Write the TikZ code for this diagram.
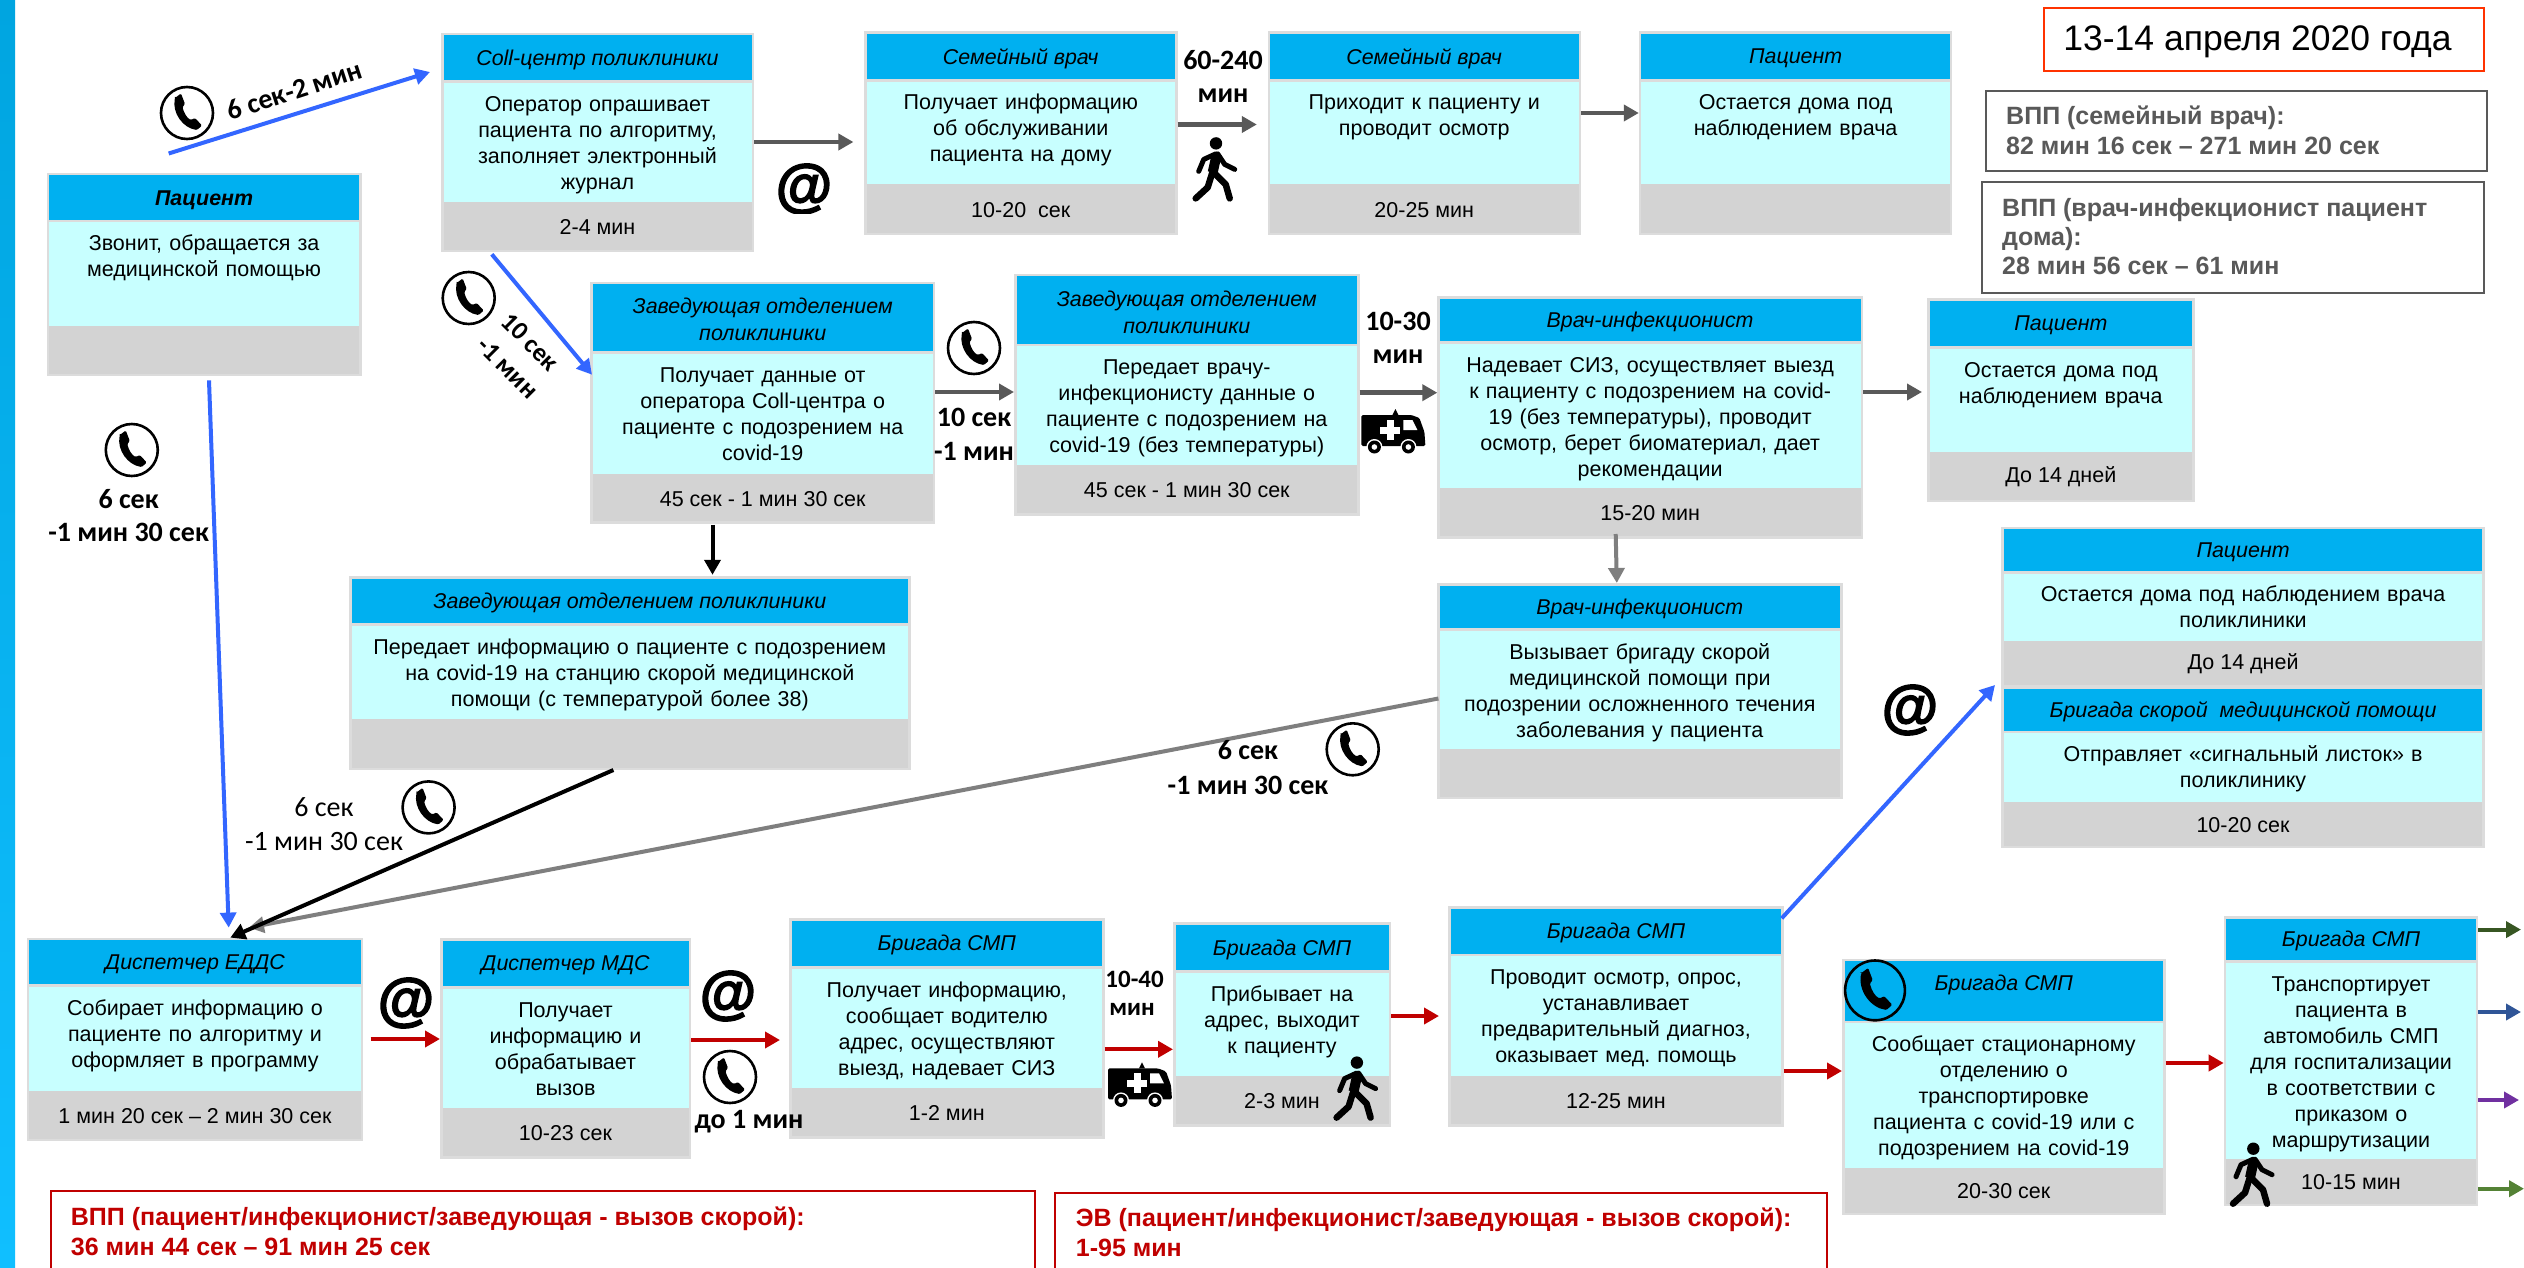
\documentclass[tikz,border=0pt]{standalone}
\usepackage{fontspec}
\setmainfont{Liberation Sans}
\newfontfamily\calibri{Carlito}
\newfontfamily\atfont[BoldFeatures={FakeBold=2.5}]{Liberation Sans}
\usetikzlibrary{arrows.meta}
\definecolor{hdr}{HTML}{00B0F0}
\definecolor{bdy}{HTML}{C8FFFF}
\definecolor{ftr}{HTML}{D3D3D3}
\definecolor{edge}{HTML}{DCDCDC}
\definecolor{bluearr}{HTML}{3366FF}
\definecolor{darkarr}{HTML}{595959}
\definecolor{midarr}{HTML}{7F7F7F}
\definecolor{redarr}{HTML}{C00000}
\definecolor{bartop}{HTML}{00A5E0}
\definecolor{barbot}{HTML}{10BFFF}
\definecolor{dateedge}{HTML}{FF3300}
\definecolor{exa}{HTML}{375623}
\definecolor{exb}{HTML}{2F5597}
\definecolor{exc}{HTML}{7030A0}
\definecolor{exd}{HTML}{548235}
\frenchspacing
\tikzset{
  rectbase/.style={rectangle,inner sep=0pt,outer sep=0pt},
  cardout/.style={rectbase,fill=edge},
  cardhdr/.style={rectbase,fill=hdr},
  cardbdy/.style={rectbase,fill=bdy},
  cardftr/.style={rectbase,fill=ftr},
  hdrtext/.style={inner sep=0pt,align=center,font=\fontsize{21.4}{27}\selectfont\itshape},
  bdytext/.style={inner sep=0pt,align=center,anchor=north,font=\fontsize{21.5}{26}\selectfont},
  ftrtext/.style={inner sep=0pt,font=\fontsize{21.5}{26}\selectfont},
  lblb/.style={inner sep=0pt,font=\fontsize{28}{34}\selectfont\calibri\bfseries},
  lblr/.style={inner sep=0pt,font=\fontsize{28}{34}\selectfont\calibri},
  atsign/.style={inner sep=0pt,anchor=base,font=\fontsize{58}{60}\selectfont\atfont\bfseries},
  sumtext/.style={inner sep=0pt,align=left,anchor=north west,font=\fontsize{25}{30}\selectfont\bfseries},
  conn/.style={-{Triangle[length=15pt,width=16pt]},line width=4pt},
  bluec/.style={conn,draw=bluearr},
  darkc/.style={conn,draw=darkarr,line width=4.5pt},
  midc/.style={conn,draw=midarr},
  blackc/.style={conn,draw=black},
  redc/.style={conn,draw=redarr},
  phoneicon/.pic={
    \draw[black,line width=2.6pt] (0,0) circle (26);
    \fill[black,rounded corners=1.2pt] (-12,-15) -- (-6,-19.5) -- (-2,-9) -- (-4.5,-6)
      .. controls (-3,0) and (0,5) .. (4,7) -- (8,5) -- (15,12.5) -- (10,17)
      .. controls (-4,15) and (-15,0) .. cycle;
  },
  walkicon/.pic={
    \fill[black] (-1.7,-26) circle (6.2);
    \draw[black,line width=10pt] (-1,-15) -- (-5,3);
    \draw[black,line width=5pt,line cap=round,line join=round] (-2,-15.5) -- (-14,-10) -- (-19,2);
    \draw[black,line width=5pt,line cap=round,line join=round] (0,-15.5) -- (7,-5) -- (17,0);
    \draw[black,line width=6.5pt,line cap=round,line join=round] (-5,2) -- (-10,18) -- (-22,29);
    \draw[black,line width=6.5pt,line cap=round,line join=round] (-5,2) -- (8,15) -- (12,29);
  },
  ambuicon/.pic={
    \fill[black,rounded corners=1.5pt] (-32,-17) -- (18,-17) -- (26,-14) -- (31,0) -- (32,14) -- (-32,14) -- cycle;
    \fill[black] (-1,-17) -- (2,-23) -- (5,-17) -- cycle;
    \fill[white] (10,-12) -- (19,-12) -- (24,-2) -- (10,-2) -- cycle;
    \fill[white] (-6.5,-12) rectangle (0.5,8);
    \fill[white] (-13,-5.5) rectangle (7,1.5);
    \foreach \wx in {-19,15}{
      \fill[white] (\wx,15) circle (8);
      \fill[black] (\wx,15) circle (6.5);
      \fill[white] (\wx,15) circle (2.8);
    }
  },
}
\def\Hsh{2}
\newcommand\card[8]{%
  \def\Cname{#1}%
  \pgfmathsetmacro\Cxa{#2}\pgfmathsetmacro\Cya{#3}\pgfmathsetmacro\Cxb{#4}\pgfmathsetmacro\Cyb{#5}%
  \pgfmathsetmacro\Chb{#6}\pgfmathsetmacro\Cbt{#7}\pgfmathsetmacro\Cbb{#8}%
  \pgfmathsetmacro\Ccx{(\Cxa+\Cxb)/2}%
  \pgfmathsetmacro\Cw{\Cxb-\Cxa}\pgfmathsetmacro\Ciw{\Cw-5}%
  \node[cardout,minimum width=\Cw pt,minimum height={(\Cyb-\Cya)*1pt}] (\Cname) at (\Ccx,{(\Cya+\Cyb)/2}) {};%
  \node[cardhdr,minimum width=\Ciw pt,minimum height={(\Chb-\Cya-2.5)*1pt}] (\Cname-h) at (\Ccx,{(\Cya+2.5+\Chb)/2}) {};%
  \node[cardbdy,minimum width=\Ciw pt,minimum height={(\Cbb-\Cbt)*1pt}] (\Cname-b) at (\Ccx,{(\Cbt+\Cbb)/2}) {};%
  \node[cardftr,minimum width=\Ciw pt,minimum height={(\Cyb-2.5-\Cbb)*1pt}] (\Cname-f) at (\Ccx,{(\Cbb+\Cyb-2.5)/2}) {};%
  \cardrest}
\newcommand\cardrest[3]{%
  \node[hdrtext] (\Cname-ht) at (\Ccx,{(\Cya+2.5+\Chb)/2+\Hsh}) {#1};%
  \node[bdytext,text width=\Cw pt] (\Cname-bt) at (\Ccx,{\Cbt+10}) {\strut #2};%
  \node[ftrtext] (\Cname-ft) at (\Ccx,{(\Cbb+\Cyb)/2}) {#3};}
\newcommand\atmark[3]{%
  \begin{scope}\clip ({#2-36},{#3-4}) rectangle ({#2+36},{#3+51});
  \node[atsign] (#1) at (#2,{#3+42}) {@};\end{scope}}
% horizontal connector: style, from, to, y, start gap, end gap
\newcommand\hc[6]{\draw[#1,shorten <=#5pt,shorten >=#6pt] (#2.east |- 0,#4) -- (#3.west |- 0,#4);}
\begin{document}
\begin{tikzpicture}[x=1pt,y=-1pt]
\useasboundingbox (0,0) rectangle (2524,1268);
\fill[white] (0,0) rectangle (2524,1268);
\shade[top color=bartop,bottom color=barbot] (0,0) rectangle (15,1268);

% cards
\card{pa}{46.6}{172.7}{361.6}{376.4}{220.4}{222.5}{325.8}{\bfseries Пациент}{Звонит, обращается за\\медицинской помощью}{}
\card{coll}{441}{32.7}{754}{252.3}{80.4}{82.9}{202}{Coll-центр поликлиники}{Оператор опрашивает\\пациента по алгоритму,\\заполняет электронный\\журнал}{2-4 мин}
\card{zava}{590}{281.7}{935.4}{523.8}{351}{354}{473.5}{Заведующая отделением\\поликлиники}{Получает данные от\\оператора Coll-центра о\\пациенте с подозрением на\\covid-19}{45 сек - 1 мин 30 сек}
\card{zavc}{349}{576.4}{910.7}{770}{623.3}{625.8}{719}{Заведующая отделением поликлиники}{Передает информацию о пациенте с подозрением\\на covid-19 на станцию скорой медицинской\\помощи (с температурой более 38)}{}
\card{sema}{864}{31.4}{1177.5}{235}{79}{81.6}{184.5}{Семейный врач}{Получает информацию\\об обслуживании\\пациента на дому}{10-20\ \ сек}
\card{semb}{1267.5}{31.4}{1581}{235}{79}{81.6}{184.5}{Семейный врач}{Приходит к пациенту и\\проводит осмотр}{20-25 мин}
\card{pta}{1638.8}{31.4}{1952.4}{235}{79}{81.6}{184.5}{Пациент}{Остается дома под\\наблюдением врача}{}
\card{zavb}{1014}{273.5}{1359.6}{515.6}{343.7}{346}{465}{Заведующая отделением\\поликлиники}{Передает врачу-\\инфекционисту данные о\\пациенте с подозрением на\\covid-19 (без температуры)}{45 сек - 1 мин 30 сек}
\card{vra}{1437.3}{296.4}{1863}{538.8}{341}{343.7}{488}{Врач-инфекционист}{Надевает СИЗ, осуществляет выезд\\к пациенту с подозрением на covid-\\19 (без температуры), проводит\\осмотр, берет биоматериал, дает\\рекомендации}{15-20 мин}
\card{vrb}{1437}{583}{1842.6}{799.4}{627.8}{630.7}{749}{Врач-инфекционист}{Вызывает бригаду скорой\\медицинской помощи при\\подозрении осложненного течения\\заболевания у пациента}{}
\card{ptb}{1927}{298}{2194.6}{502}{346}{348.6}{452}{Пациент}{Остается дома под\\наблюдением врача}{До 14 дней}
\card{bigp}{2001.4}{526.6}{2484.7}{687}{571}{573.5}{641}{Пациент}{Остается дома под наблюдением врача\\поликлиники}{До 14 дней}
\card{bigs}{2001.4}{686.5}{2484.7}{848}{730.5}{733}{801.5}{Бригада скорой\ \ медицинской помощи}{Отправляет «сигнальный листок» в\\поликлинику}{10-20 сек}
\card{edds}{26.8}{937.6}{363.2}{1141}{984.4}{987}{1090.6}{Диспетчер ЕДДС}{Собирает информацию о\\пациенте по алгоритму и\\оформляет в программу}{1 мин 20 сек – 2 мин 30 сек}
\card{mds}{440}{938.4}{691}{1158.6}{986.4}{988.8}{1108}{Диспетчер МДС}{Получает\\информацию и\\обрабатывает\\вызов}{10-23 сек}
\card{smpa}{789}{918.3}{1104.6}{1138.6}{966}{968.8}{1087.8}{Бригада СМП}{Получает информацию,\\сообщает водителю\\адрес, осуществляют\\выезд, надевает СИЗ}{1-2 мин}
\card{smpb}{1173}{922.4}{1391}{1126.6}{970.4}{972.8}{1076}{Бригада СМП}{Прибывает на\\адрес, выходит\\к пациенту}{2-3 мин}
\card{smpc}{1448}{906.3}{1783.9}{1126.6}{954}{956.4}{1076}{Бригада СМП}{Проводит осмотр, опрос,\\устанавливает\\предварительный диагноз,\\оказывает мед. помощь}{12-25 мин}
\def\Hsh{-6}
\card{smpd}{1842}{958.8}{2165.5}{1215}{1020.5}{1023.3}{1167.5}{Бригада СМП}{Сообщает стационарному\\отделению о\\транспортировке\\пациента с covid-19 или с\\подозрением на covid-19}{20-30 сек}
\def\Hsh{2}
\card{smpe}{2223.7}{916}{2478.3}{1206}{960}{962.8}{1158.6}{Бригада СМП}{Транспортирует\\пациента в\\автомобиль СМП\\для госпитализации\\в соответствии с\\приказом о\\маршрутизации}{10-15 мин}

% info boxes
\node[rectbase,draw=dateedge,line width=2pt,minimum width=440pt,minimum height=63pt] (datebox) at (2263.5,39.5) {};
\node[inner sep=0pt,font=\fontsize{35.5}{40}\selectfont] (datetext) at (2257.5,42) {13-14 апреля 2020 года};
\node[rectbase,draw=darkarr,line width=2pt,minimum width=501.7pt,minimum height=80pt] (vppa) at (2236.6,131.4) {};
\node[sumtext,text=darkarr] (vppat) at (2006,106) {ВПП (семейный врач):\\82 мин 16 сек – 271 мин 20 сек};
\node[rectbase,draw=darkarr,line width=2pt,minimum width=501.5pt,minimum height=110.2pt] (vppb) at (2233.2,237.6) {};
\node[sumtext,text=darkarr,font=\fontsize{25}{29.3}\selectfont\bfseries] (vppbt) at (2002,198) {ВПП (врач-инфекционист пациент\\дома):\\28 мин 56 сек – 61 мин};
\node[rectbase,draw=redarr,line width=2pt,minimum width=984.5pt,minimum height=85pt] (reda) at (543.2,1233.2) {};
\node[sumtext,text=redarr] (redat) at (70.7,1207) {ВПП (пациент/инфекционист/заведующая - вызов скорой):\\36 мин 44 сек – 91 мин 25 сек};
\node[rectbase,draw=redarr,line width=2pt,minimum width=771.6pt,minimum height=85pt] (redb) at (1441.2,1235.2) {};
\node[sumtext,text=redarr] (redbt) at (1075.7,1208) {ЭВ (пациент/инфекционист/заведующая - вызов скорой):\\1-95 мин};

% connectors
\draw[bluec] ([shift={(122.1,-19.2)}]pa.north west) -- ([shift={(-11,39.3)}]coll.north west);
\draw[bluec] ([shift={(50.8,2)}]coll.south west) -- ([shift={(2,93)}]zava.north west);
\draw[bluec] ([shift={(162.4,4)}]pa.south west) -- ([shift={(201.9,-10)}]edds.north west);
\draw[blackc] ([shift={(122.5,1)}]zava.south west) -- ([shift={(363.5,-1.6)}]zavc.north west);
\draw[midc] ([shift={(1.4,115.5)}]vrb.north west) -- ([shift={(222.2,-10)}]edds.north west);
\draw[blackc] ([shift={(264.4,0)}]zavc.south west) -- ([shift={(203.5,0)}]edds.north west);
\draw[midc] ([shift={(178.4,-4.8)}]vra.south west) -- ([shift={(179.8,0)}]vrb.north west);
\draw[bluec] ([shift={(-2.2,12)}]smpc.north east) -- ([shift={(-6.4,-2)}]bigp.south west);
\hc{darkc}{coll}{sema}{142}{0}{10.6}
\hc{darkc}{sema}{semb}{124.5}{0}{10.7}
\hc{darkc}{semb}{pta}{113}{0}{0}
\hc{darkc}{zava}{zavb}{392}{0}{0}
\hc{darkc}{zavb}{vra}{392.7}{0}{0}
\hc{darkc}{vra}{ptb}{392}{0}{5}
\hc{redc}{edds}{mds}{1039}{7.5}{0}
\hc{redc}{mds}{smpa}{1040}{0}{9}
\hc{redc}{smpa}{smpb}{1049.3}{0}{0}
\hc{redc}{smpb}{smpc}{1016}{0}{9}
\hc{redc}{smpc}{smpd}{1071}{0}{0}
\hc{redc}{smpd}{smpe}{1063}{0}{0}
\coordinate (exita) at (2521,929.6);
\coordinate (exitb) at (2521,1012);
\coordinate (exitc) at (2519,1100);
\coordinate (exitd) at (2524,1188.7);
\draw[conn,draw=exa] (smpe.east |- exita) -- (exita);
\draw[conn,draw=exb] (smpe.east |- exitb) -- (exitb);
\draw[conn,draw=exc] (smpe.east |- exitc) -- (exitc);
\draw[conn,draw=exd] (smpe.east |- exitd) -- (exitd);

% labels
\node[lblb,rotate=18] (la) at (294.6,90) {6 сек-2 мин};
\node[lblb,rotate=-45,font=\fontsize{26}{32}\selectfont\calibri\bfseries] (lb) at (530.3,342) {10 сек};
\node[lblb,rotate=-45,font=\fontsize{26}{32}\selectfont\calibri\bfseries] (lc) at (507.8,368) {-1 мин};
\node[lblb] (ld) at (128.6,499) {6 сек};
\node[lblb] (le) at (128.6,532.7) {-1 мин 30 сек};
\node[lblb] (lf) at (1223,60.4) {60-240};
\node[lblb] (lg) at (1223,96) {мин};
\node[lblb] (lh) at (974,417) {10 сек};
\node[lblb] (li) at (974,451.5) {-1 мин};
\node[lblb] (lj) at (1398,321.7) {10-30};
\node[lblb] (lk) at (1398,357) {мин};
\node[lblr] (ll) at (324,807.4) {6 сек};
\node[lblr] (lm) at (324,841.5) {-1 мин 30 сек};
\node[lblb] (ln) at (1248,750) {6 сек};
\node[lblb] (lo) at (1248,785) {-1 мин 30 сек};
\node[lblb] (lp) at (749,1122) {до 1 мин};
\node[lblb,font=\fontsize{25}{30}\selectfont\calibri\bfseries] (lq) at (1134.6,979.6) {10-40};
\node[lblb,font=\fontsize{25}{30}\selectfont\calibri\bfseries] (lr) at (1132,1009.7) {мин};

% icons
\pic at (187,113) {phoneicon};
\pic at (468.7,298) {phoneicon};
\pic at (131.8,450) {phoneicon};
\pic at (974,348) {phoneicon};
\pic at (428.6,807.4) {phoneicon};
\pic at (730,1077) {phoneicon};
\pic at (1352.7,749.3) {phoneicon};
\pic[scale=1.15] at (1875,990.4) {phoneicon};
\pic at (1217.7,169.4) {walkicon};
\pic at (1358.6,1088.6) {walkicon};
\pic at (2255,1174.7) {walkicon};
\pic at (1393.4,432) {ambuicon};
\pic at (1140,1085.4) {ambuicon};
\atmark{ata}{804}{163}
\atmark{atb}{406}{977}
\atmark{atc}{728}{970}
\atmark{atd}{1910}{684}
\end{tikzpicture}
\end{document}
